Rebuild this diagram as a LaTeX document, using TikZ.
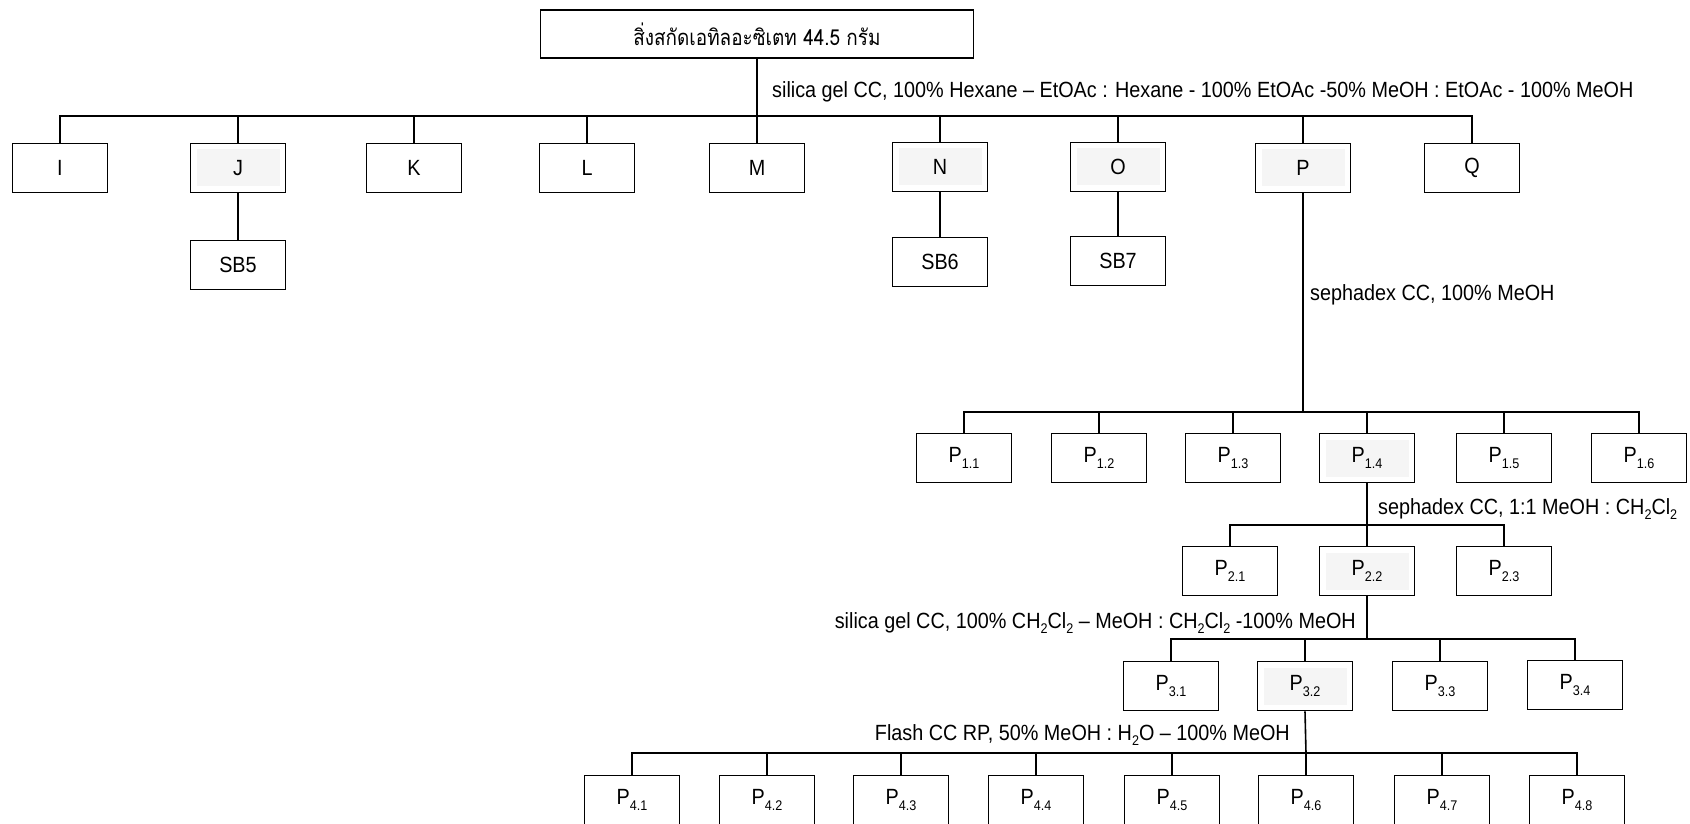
\documentclass[tikz,border=0pt]{standalone}
\usepackage{fontspec}
\setmainfont[FakeStretch=0.9]{Liberation Sans}
\newfontfamily\thaifont[Script=Thai,FakeStretch=0.86]{Loma}
\newcommand\sbx[1]{\raisebox{-6.5pt}{\fontsize{14}{14}\selectfont #1}}
\newcommand\tsb[1]{\raisebox{-5.5pt}{\fontsize{14}{14}\selectfont #1}}
\begin{document}
\begin{tikzpicture}[x=1pt,y=-1pt,
  box/.style={draw, line width=1.6pt, minimum width=95pt, minimum height=49pt, inner sep=0pt, font=\fontsize{22}{26}\selectfont},
  hl/.style={path picture={\fill[black!4] ([shift={(6pt,-6pt)}]path picture bounding box.north west) rectangle ([shift={(-6pt,6pt)}]path picture bounding box.south east);}},
  lbl/.style={inner sep=0pt, font=\fontsize{22}{26}\selectfont},
  link/.style={line width=1.6pt}]
\useasboundingbox (0,0) rectangle (1690,824);
% top
\node[box, minimum width=433pt, minimum height=48pt] (top) at (757,34) {\thaifont สิ่งสกัดเอทิลอะซิเตท 44.5 กรัม};
\node[lbl, anchor=base west] (l1) at (772,98) {silica gel CC, 100\% Hexane – EtOAc : Hexane - 100\% EtOAc -50\% MeOH : EtOAc - 100\% MeOH};
% row 1
\node[box] (I) at (60,168) {I};
\node[box,hl] (J) at (238,168) {J};
\node[box] (K) at (414,168) {K};
\node[box] (L) at (587,168) {L};
\node[box] (M) at (757,168) {M};
\node[box,hl] (N) at (940,167) {N};
\node[box,hl] (O) at (1118,167) {O};
\node[box,hl] (P) at (1303,168) {P};
\node[box] (Q) at (1472,168) {Q};
\node[box] (SB5) at (238,265) {SB5};
\node[box] (SB6) at (940,262) {SB6};
\node[box] (SB7) at (1118,261) {SB7};
\coordinate (b1) at (757,116);
\draw[link] (top.south) -- (M.north);
\foreach \n in {I,J,K,L,N,O,P,Q} \draw[link] (\n.north) |- (b1);
\draw[link] (J.south) -- (SB5.north);
\draw[link] (N.south) -- (SB6.north);
\draw[link] (O.south) -- (SB7.north);
% row P1
\node[lbl, anchor=base west] (l2) at (1310,300) {sephadex CC, 100\% MeOH};
\node[box] (P11) at (964,458) {P\sbx{1.1}};
\node[box] (P12) at (1099,458) {P\sbx{1.2}};
\node[box] (P13) at (1233,458) {P\sbx{1.3}};
\node[box,hl] (P14) at (1367,458) {P\sbx{1.4}};
\node[box] (P15) at (1504,458) {P\sbx{1.5}};
\node[box] (P16) at (1639,458) {P\sbx{1.6}};
\coordinate (b2) at (1303,412);
\draw[link] (P.south) -- (b2);
\foreach \n in {P11,P12,P13,P14,P15,P16} \draw[link] (\n.north) |- (b2);
% row P2
\node[lbl, anchor=base west] (l3) at (1378,514) {sephadex CC, 1:1 MeOH : CH\tsb{2}Cl\tsb{2}};
\node[box] (P21) at (1230,571) {P\sbx{2.1}};
\node[box,hl] (P22) at (1367,571) {P\sbx{2.2}};
\node[box] (P23) at (1504,571) {P\sbx{2.3}};
\draw[link] (P14.south) -- (P22.north);
\coordinate (b3) at (1367,525);
\foreach \n in {P21,P23} \draw[link] (\n.north) |- (b3);
% row P3
\node[lbl, anchor=base east] (l4) at (1356,628) {silica gel CC, 100\% CH\tsb{2}Cl\tsb{2} – MeOH : CH\tsb{2}Cl\tsb{2} -100\% MeOH};
\node[box] (P31) at (1171,686) {P\sbx{3.1}};
\node[box,hl] (P32) at (1305,686) {P\sbx{3.2}};
\node[box] (P33) at (1440,686) {P\sbx{3.3}};
\node[box] (P34) at (1575,685) {P\sbx{3.4}};
\coordinate (b4) at (1367,639);
\draw[link] (P22.south) -- (b4);
\foreach \n in {P31,P32,P33,P34} \draw[link] (\n.north) |- (b4);
% row P4
\node[lbl, anchor=base east] (l5) at (1290,740) {Flash CC RP, 50\% MeOH : H\tsb{2}O – 100\% MeOH};
\node[box] (P41) at (632,800) {P\sbx{4.1}};
\node[box] (P42) at (767,800) {P\sbx{4.2}};
\node[box] (P43) at (901,800) {P\sbx{4.3}};
\node[box] (P44) at (1036,800) {P\sbx{4.4}};
\node[box] (P45) at (1172,800) {P\sbx{4.5}};
\node[box] (P46) at (1306,800) {P\sbx{4.6}};
\node[box] (P47) at (1442,800) {P\sbx{4.7}};
\node[box] (P48) at (1577,800) {P\sbx{4.8}};
\coordinate (b5) at (1306,753);
\draw[link] (P32.south) -- (b5);
\foreach \n in {P41,P42,P43,P44,P45,P46,P47,P48} \draw[link] (\n.north) |- (b5);
\end{tikzpicture}
\end{document}
